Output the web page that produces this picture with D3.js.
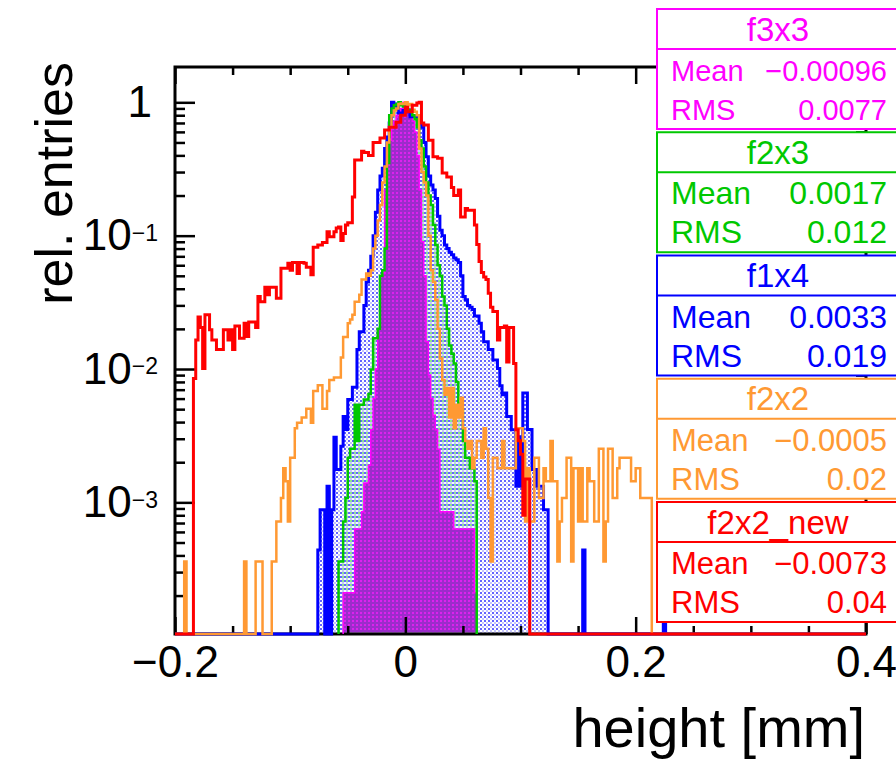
<!DOCTYPE html>
<html>
<head>
<meta charset="utf-8">
<script src="https://cdn.jsdelivr.net/npm/d3@7"></script>
<style>
body { margin: 0; background: #fff; }
svg { display: block; font-family: "Liberation Sans", Arial, Helvetica, sans-serif; }
</style>
</head>
<body>
<svg id="chart" width="896" height="759"></svg>
<script>
'use strict';

/* global d3 */

// 300 bins of 0.002 mm between -0.2 and 0.4
var binLow = -0.2;
var binWidth = 0.002;
var binCount = 300;

// f3x3 (magenta)
var f3x3Start = 73;
var f3x3Values = [
    0.00021, 0.00021, 0.00021, 0.00021, 0.00021,
    0.00063, 0.00063, 0.00063, 0.00085, 0.0014,
    0.0014, 0.0019, 0.0035, 0.006, 0.01,
    0.02, 0.05, 0.052, 0.22, 0.39,
    0.52, 0.65, 0.72, 0.8, 0.85,
    0.9, 1.0, 0.95, 0.9, 0.8,
    0.72, 0.6, 0.4, 0.22, 0.09,
    0.05, 0.016, 0.009, 0.006, 0.0045,
    0.0035, 0.0025, 0.00085, 0.00085, 0.00085,
    0.00085, 0.00085, 0.00085, 0.00063, 0.00063,
    0.00063, 0.00063, 0.00063, 0.00063, 0.00063,
    0.00063, 0.00063, 0.00021
];

// f2x3 (green)
var f2x3Start = 71;
var f2x3Values = [
    0.00036, 0.00036, 0.00072, 0.00108, 0.00216,
    0.00252, 0.00252, 0.0054, 0.00288, 0.0054,
    0.0054, 0.0059, 0.0059, 0.0065, 0.0099,
    0.017, 0.017, 0.02, 0.05, 0.055,
    0.08, 0.35, 0.8, 0.9, 0.95,
    0.97, 1.0, 0.95, 0.93, 0.9,
    0.88, 0.85, 0.8, 0.75, 0.65,
    0.52, 0.45, 0.33, 0.25, 0.2,
    0.17, 0.12, 0.085, 0.06, 0.05,
    0.035, 0.03, 0.02, 0.015, 0.013,
    0.011, 0.008, 0.0055, 0.005, 0.00288,
    0.00216, 0.00216, 0.0018, 0.0018, 0.00144
];

// f1x4 (blue)
var f1x4Start = 62;
var f1x4Values = [
    0.00044, 0.00088, 0.00088, 0, 0.00132,
    0, 0.00088, 0.00308, 0.00176, 0.00176,
    0.00264, 0.0044, 0.00352, 0.0059, 0.0059,
    0.0073, 0.0073, 0.014, 0.019, 0.019,
    0.03, 0.045, 0.055, 0.07, 0.1,
    0.15, 0.22, 0.28, 0.32, 0.45,
    0.55, 0.7, 1.0, 0.97, 0.93,
    0.83, 0.83, 0.87, 0.85, 0.85,
    0.78, 0.78, 0.78, 0.75, 0.72,
    0.65, 0.5, 0.39, 0.28, 0.24,
    0.22, 0.19, 0.14, 0.11, 0.1,
    0.085, 0.08, 0.075, 0.072, 0.068,
    0.066, 0.063, 0.05, 0.035, 0.033,
    0.03, 0.029, 0.028, 0.025, 0.025,
    0.022, 0.019, 0.016, 0.016, 0.014,
    0.014, 0.0117, 0.0117, 0.0101, 0.0075,
    0.0064, 0.0066, 0.0044, 0.0044, 0.0035,
    0.0035, 0.00132, 0.0031, 0.00132, 0.0066,
    0.0066, 0.00352, 0.00352, 0.00176, 0.00176,
    0.00132, 0.00132, 0.00132, 0.00088, 0.00088
];
var f1x4LoneBins = [177, 212];
var f1x4LoneValues = [0.00044, 0.00044];

// f2x2 (orange)
var f2x2Start = 42;
var f2x2Values = [
    0.00036, 0.00036, 0.00072, 0.00072, 0.00108,
    0.0018, 0.00144, 0.00072, 0.00216, 0.00216,
    0.0036, 0.00396, 0.00396, 0.00432, 0.00432,
    0.00504, 0.00504, 0.00396, 0.00684, 0.00684,
    0.00756, 0.00756, 0.00504, 0.00504, 0.00684,
    0.00828, 0.00828, 0.00864, 0.00864, 0.00864,
    0.0122, 0.0174, 0.0174, 0.022, 0.0235,
    0.0255, 0.032, 0.032, 0.036, 0.047,
    0.047, 0.052, 0.05, 0.055, 0.08,
    0.1, 0.13, 0.17, 0.25, 0.33,
    0.5, 0.65, 0.8, 0.87, 0.9,
    0.97, 0.98, 0.97, 1.0, 0.95,
    0.97, 0.88, 0.85, 0.8, 0.45,
    0.3, 0.25, 0.2, 0.1, 0.055,
    0.045, 0.033, 0.02, 0.012, 0.00828,
    0.0064, 0.0072, 0.00432, 0.0072, 0.0036,
    0.0054, 0.00432, 0.0061, 0.0036, 0.00288,
    0.00252, 0.00288, 0.0018, 0.00216, 0.00288,
    0.00288, 0.00216, 0.0036, 0.00252, 0.00108,
    0.00036, 0.00216, 0.00216, 0.0018, 0.0018,
    0.00288, 0.0018, 0.0018, 0.0018, 0.0018,
    0.0018, 0.0036, 0.0036, 0.0036, 0.00288,
    0.00072, 0.0018, 0.00072, 0.00072, 0.00216,
    0.00216, 0.00108, 0.00108, 0.0018, 0.00144,
    0.00144, 0.00288, 0.00144, 0.00144, 0.00036,
    0.00072, 0.00108, 0.00108, 0.00216, 0.00216,
    0.00036, 0.0018, 0.0018, 0.00072, 0.0018,
    0.00072, 0.00072, 0.0018, 0.00144, 0.00144,
    0.00072, 0.00072, 0.00252, 0.00252, 0.00036,
    0.00072, 0.00252, 0.00252, 0.00108, 0.00108,
    0.0018, 0.00216, 0.00216, 0.00216, 0.00216,
    0.00216, 0.00144, 0.00144, 0.0018, 0.0018,
    0.00108, 0.00108, 0.00108, 0.00108, 0.00108
];
var f2x2LoneBins = [4, 30, 35, 36, 37];
var f2x2LoneValues = [0.00036, 0.00036, 0.00036, 0.00036, 0.00036];

// f2x2_new (red)
var f2x2NewStart = 8;
var f2x2NewValues = [
    0.0085, 0.0165, 0.0245, 0.0205, 0.0101,
    0.0255, 0.0255, 0.0197, 0.0165, 0.0165,
    0.014, 0.014, 0.014, 0.0197, 0.0197,
    0.0165, 0.0197, 0.014, 0.021, 0.021,
    0.017, 0.017, 0.022, 0.0175, 0.0225,
    0.0225, 0.0225, 0.0205, 0.035, 0.032,
    0.032, 0.041, 0.036, 0.041, 0.041,
    0.041, 0.034, 0.034, 0.057, 0.057,
    0.057, 0.062, 0.055, 0.063, 0.063,
    0.052, 0.063, 0.063, 0.062, 0.058,
    0.058, 0.051, 0.082, 0.082, 0.085,
    0.085, 0.089, 0.089, 0.107, 0.098,
    0.098, 0.107, 0.114, 0.116, 0.092,
    0.104, 0.12, 0.125, 0.125, 0.195,
    0.37, 0.37, 0.37, 0.43, 0.42,
    0.42, 0.40, 0.40, 0.50, 0.50,
    0.50, 0.54, 0.54, 0.62, 0.62,
    0.65, 0.65, 0.65, 0.71, 0.71,
    0.80, 0.80, 0.92, 0.85, 0.85,
    0.95, 0.95, 0.99, 1.0, 0.70,
    0.675, 0.675, 0.52, 0.52, 0.39,
    0.39, 0.38, 0.38, 0.295, 0.295,
    0.275, 0.275, 0.23, 0.20, 0.20,
    0.22, 0.138, 0.138, 0.16, 0.155,
    0.155, 0.155, 0.12, 0.086, 0.064,
    0.053, 0.049, 0.047, 0.037, 0.029,
    0.027, 0.027, 0.0165, 0.0205, 0.0205,
    0.021, 0.0113, 0.0205, 0.0205, 0.011,
    0.0035, 0.0029, 0.0023, 0.0008, 0.0015,
    0.0015
];

var statNames = ["f3x3", "f2x3", "f1x4", "f2x2", "f2x2_new"];
var statMeans = [-0.00096, 0.0017, 0.0033, -0.0005, -0.0073];
var statRms = [0.0077, 0.012, 0.019, 0.02, 0.04];
var statColors = ["#ff00ff", "#00c800", "#0000ff", "#ff9933", "#ff0000"];
var statFontPx = [29, 32, 32, 31, 31];

var xTicksMajor = [-0.2, 0, 0.2, 0.4];
var xTicksMinor = [-0.15, -0.1, -0.05, 0.05, 0.1, 0.15, 0.25, 0.3, 0.35];
var yTicksMajor = [1, 0.1, 0.01, 0.001];
var yTickExponents = ["", "\u22121", "\u22122", "\u22123"];

var svg = d3.select("#chart");
var frameLeft = 175, frameRight = 866, frameTop = 67, frameBottom = 634;

var x = d3.scaleLinear().domain([-0.2, 0.4]).range([frameLeft, frameRight]);
var y = d3.scaleLog().domain([1.03e-4, 1.84]).range([frameBottom, frameTop]).clamp(true);

var yMinor = [];
[1e-4, 1e-3, 1e-2, 1e-1].forEach(function(decade) {
    for (var m = 2; m <= 9; m++) {
        yMinor.push(m * decade);
    }
});

function toBins(start, values, loneBins, loneValues) {
    var bins = new Array(binCount).fill(0);
    values.forEach(function(v, i) { bins[start + i] = v; });
    (loneBins || []).forEach(function(b, i) { bins[b] = loneValues[i]; });
    return bins;
}

function stepPath(bins, first, last) {
    var pts = [[binLow + first * binWidth, 0]];
    for (var i = first; i <= last; i++) {
        pts.push([binLow + i * binWidth, bins[i]]);
    }
    pts.push([binLow + (last + 1) * binWidth, bins[last]]);
    pts.push([binLow + (last + 1) * binWidth, 0]);
    return d3.line()
        .x(function(d) { return x(d[0]); })
        .y(function(d) { return d[1] > 0 ? y(d[1]) : frameBottom; })
        .curve(d3.curveStepAfter)(pts);
}

var magentaBins = toBins(f3x3Start, f3x3Values);
var greenBins = toBins(f2x3Start, f2x3Values);
var blueBins = toBins(f1x4Start, f1x4Values, f1x4LoneBins, f1x4LoneValues);
var orangeBins = toBins(f2x2Start, f2x2Values, f2x2LoneBins, f2x2LoneValues);
var redBins = toBins(f2x2NewStart, f2x2NewValues);

var defs = svg.append("defs");
defs.append("clipPath").attr("id", "clipFill")
    .append("rect")
    .attr("x", frameLeft + 1.5).attr("y", frameTop + 1.5)
    .attr("width", frameRight - frameLeft - 3).attr("height", frameBottom - frameTop - 3);
defs.append("clipPath").attr("id", "clipLine")
    .append("rect")
    .attr("x", frameLeft).attr("y", frameTop)
    .attr("width", frameRight - frameLeft).attr("height", frameBottom - frameTop + 2);

var bluePat = defs.append("pattern").attr("id", "bluePat")
    .attr("patternUnits", "userSpaceOnUse").attr("width", 4).attr("height", 4);
bluePat.append("rect").attr("width", 2).attr("height", 2).attr("fill", "#6464ff");
bluePat.append("rect").attr("x", 2).attr("y", 2).attr("width", 2).attr("height", 2).attr("fill", "#c4c4ff");

var greenPat = defs.append("pattern").attr("id", "greenPat")
    .attr("patternUnits", "userSpaceOnUse").attr("width", 4).attr("height", 4);
greenPat.append("rect").attr("x", 2).attr("width", 2).attr("height", 2).attr("fill", "#8ee68e");
greenPat.append("rect").attr("y", 2).attr("width", 2).attr("height", 2).attr("fill", "#f4fff4");

var magentaPat = defs.append("pattern").attr("id", "magentaPat")
    .attr("patternUnits", "userSpaceOnUse").attr("width", 4).attr("height", 4);
magentaPat.append("rect").attr("width", 4).attr("height", 4).attr("fill", "#9c2ccb");
magentaPat.append("rect").attr("width", 2).attr("height", 2).attr("fill", "#dc22ee");

// fills
var fills = svg.append("g").attr("clip-path", "url(#clipFill)");
fills.append("path").attr("d", stepPath(blueBins, 0, binCount - 1)).attr("fill", "url(#bluePat)");
fills.append("path").attr("d", stepPath(greenBins, f2x3Start, f2x3Start + f2x3Values.length - 1)).attr("fill", "url(#greenPat)");
fills.append("path").attr("d", stepPath(magentaBins, f3x3Start, f3x3Start + f3x3Values.length - 1)).attr("fill", "url(#magentaPat)");

// frame and axes
svg.append("rect")
    .attr("x", frameLeft).attr("y", frameTop)
    .attr("width", frameRight - frameLeft).attr("height", frameBottom - frameTop)
    .attr("fill", "none").attr("stroke", "#000").attr("stroke-width", 3);

function xLabel(d) {
    if (d === 0) { return "0"; }
    return (d < 0 ? "\u2212" : "") + Math.abs(d);
}

function styleAxis(g) {
    g.select(".domain").remove();
    g.selectAll(".tick line").attr("stroke", "#000").attr("stroke-width", 2.5);
}

svg.append("g").attr("transform", "translate(0," + frameBottom + ")")
    .call(d3.axisBottom(x).tickValues(xTicksMajor).tickSize(-17).tickPadding(12).tickFormat(xLabel))
    .call(styleAxis)
    .selectAll("text").attr("font-size", 44).attr("font-family", "Liberation Sans, Arial, sans-serif").attr("fill", "#000");
svg.append("g").attr("transform", "translate(0," + frameBottom + ")")
    .call(d3.axisBottom(x).tickValues(xTicksMinor).tickSize(-8).tickFormat(""))
    .call(styleAxis);
svg.append("g").attr("transform", "translate(0," + frameTop + ")")
    .call(d3.axisTop(x).tickValues(xTicksMajor).tickSize(-17).tickFormat(""))
    .call(styleAxis);
svg.append("g").attr("transform", "translate(0," + frameTop + ")")
    .call(d3.axisTop(x).tickValues(xTicksMinor).tickSize(-8).tickFormat(""))
    .call(styleAxis);

var yAxis = svg.append("g").attr("transform", "translate(" + frameLeft + ",0)")
    .call(d3.axisLeft(y).tickValues(yTicksMajor).tickSize(-20).tickPadding(17).tickFormat(""))
    .call(styleAxis);
yAxis.selectAll(".tick text").each(function(d, i) {
    var t = d3.select(this)
        .attr("font-size", 44)
        .attr("font-family", "Liberation Sans, Arial, sans-serif")
        .attr("fill", "#000");
    if (yTickExponents[i] === "") {
        t.attr("dx", -6).text("1");
    } else {
        t.append("tspan").text("10");
        t.append("tspan").attr("dy", "-0.4em").attr("font-size", 23).text(yTickExponents[i]);
    }
});
svg.append("g").attr("transform", "translate(" + frameLeft + ",0)")
    .call(d3.axisLeft(y).tickValues(yMinor).tickSize(-10).tickFormat(""))
    .call(styleAxis);
svg.append("g").attr("transform", "translate(" + frameRight + ",0)")
    .call(d3.axisRight(y).tickValues(yTicksMajor).tickSize(-20).tickFormat(""))
    .call(styleAxis);
svg.append("g").attr("transform", "translate(" + frameRight + ",0)")
    .call(d3.axisRight(y).tickValues(yMinor).tickSize(-10).tickFormat(""))
    .call(styleAxis);

// outlines
var lines = svg.append("g").attr("clip-path", "url(#clipLine)").attr("fill", "none");
lines.append("path").attr("d", stepPath(magentaBins, f3x3Start, f3x3Start + f3x3Values.length - 1))
    .attr("stroke", statColors[0]).attr("stroke-width", 1.5);
lines.append("path").attr("d", stepPath(blueBins, 0, binCount - 1))
    .attr("stroke", statColors[2]).attr("stroke-width", 3);
lines.append("path").attr("d", stepPath(greenBins, f2x3Start, f2x3Start + f2x3Values.length - 1))
    .attr("stroke", statColors[1]).attr("stroke-width", 2.5);
lines.append("path").attr("d", stepPath(orangeBins, 0, binCount - 1))
    .attr("stroke", statColors[3]).attr("stroke-width", 2.5);
lines.append("path").attr("d", stepPath(redBins, 0, binCount - 1))
    .attr("stroke", statColors[4]).attr("stroke-width", 3);

// axis titles
svg.append("text")
    .attr("transform", "translate(72,62) rotate(-90)")
    .attr("text-anchor", "end")
    .attr("font-size", 52)
    .text("rel. entries");
svg.append("text")
    .attr("x", 865).attr("y", 747)
    .attr("text-anchor", "end")
    .attr("font-size", 56)
    .text("height [mm]");

// stat boxes
function fmt(v) {
    return String(v).replace("-", "\u2212");
}

statNames.forEach(function(name, i) {
    var boxTop = 9 + i * 123.25;
    var g = svg.append("g").attr("fill", statColors[i]);
    g.append("rect")
        .attr("x", 657).attr("y", boxTop)
        .attr("width", 242).attr("height", 120)
        .attr("fill", "#fff").attr("stroke", statColors[i]).attr("stroke-width", 2);
    g.append("line")
        .attr("x1", 657).attr("x2", 899)
        .attr("y1", boxTop + 40).attr("y2", boxTop + 40)
        .attr("stroke", statColors[i]).attr("stroke-width", 2);
    g.append("text")
        .attr("x", 778).attr("y", boxTop + 31.5)
        .attr("text-anchor", "middle").attr("font-size", 33)
        .text(name);
    [["Mean", statMeans[i], 72], ["RMS", statRms[i], 111]].forEach(function(row) {
        g.append("text")
            .attr("x", 671).attr("y", boxTop + row[2])
            .attr("font-size", statFontPx[i])
            .text(row[0]);
        g.append("text")
            .attr("x", 887).attr("y", boxTop + row[2])
            .attr("text-anchor", "end").attr("font-size", statFontPx[i])
            .text(fmt(row[1]));
    });
});
</script>
</body>
</html>
